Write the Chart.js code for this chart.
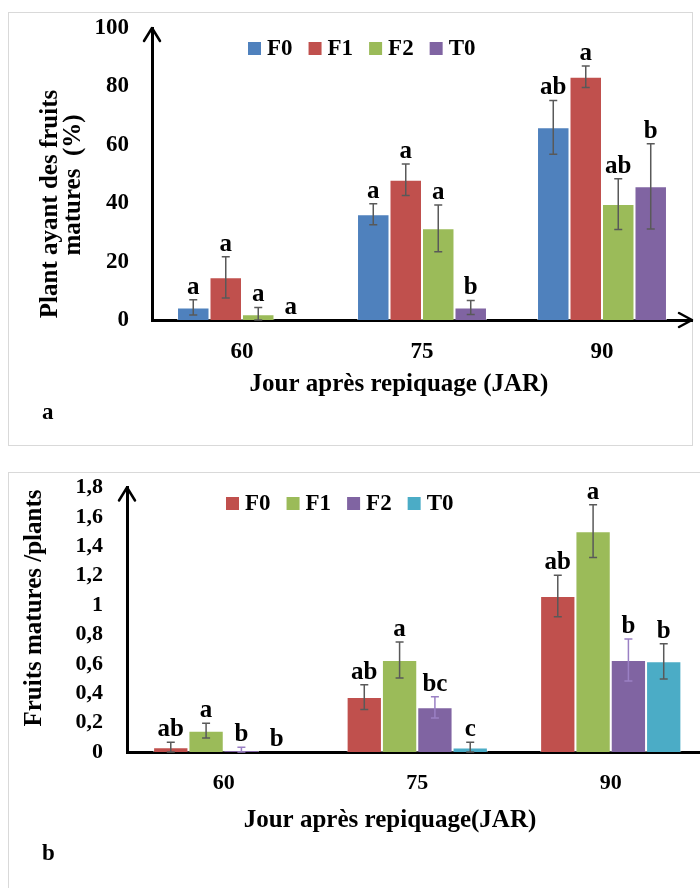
<!DOCTYPE html>
<html><head><meta charset="utf-8">
<script src="https://cdn.jsdelivr.net/npm/chart.js@4/dist/chart.umd.min.js"></script>
<style>
html,body{margin:0;padding:0;background:#fff;width:700px;height:888px;overflow:hidden;position:relative}
.panel{position:absolute;border:1px solid #d9d9d9;box-sizing:border-box}
.wrap{position:absolute;left:0}
</style></head><body>
<div class="panel" style="left:8px;top:12px;width:685px;height:434px"></div>
<div class="panel" style="left:8px;top:472px;width:720px;height:440px"></div>
<div class="wrap" style="top:0;width:700px;height:450px"><canvas id="ca" width="700" height="450"></canvas></div>
<div class="wrap" style="top:460px;width:720px;height:428px"><canvas id="cb" width="720" height="428"></canvas></div>
<script>
// ---------- data ----------
const categories = ['60', '75', '90'];

// Chart a : Plant ayant des fruits matures (%)
const seriesA = ['F0', 'F1', 'F2', 'T0'];
const aF0 = [4.3, 36.2, 66.0];
const aF1 = [14.6, 48.0, 83.3];
const aF2 = [2.0, 31.4, 39.7];
const aT0 = [0, 4.3, 45.8];
const aF0Err = [2.6, 3.6, 9.2];
const aF1Err = [7.1, 5.4, 3.7];
const aF2Err = [2.3, 8.0, 8.7];
const aT0Err = [0, 2.4, 14.6];
const aF0Let = ['a', 'a', 'ab'];
const aF1Let = ['a', 'a', 'a'];
const aF2Let = ['a', 'a', 'ab'];
const aT0Let = ['a', 'b', 'b'];
const aYTicks = ['0', '20', '40', '60', '80', '100'];

// Chart b : Fruits matures /plants
const seriesB = ['F0', 'F1', 'F2', 'T0'];
const bF0 = [0.032, 0.374, 1.061];
const bF1 = [0.145, 0.626, 1.503];
const bF2 = [0.014, 0.304, 0.626];
const bT0 = [0, 0.03, 0.617];
const bF0Err = [0.034, 0.084, 0.141];
const bF1Err = [0.05, 0.122, 0.18];
const bF2Err = [0.018, 0.072, 0.143];
const bT0Err = [0, 0.036, 0.12];
const bF0Let = ['ab', 'ab', 'ab'];
const bF1Let = ['a', 'a', 'a'];
const bF2Let = ['b', 'bc', 'b'];
const bT0Let = ['b', 'c', 'b'];
const bYTicks = ['0', '0,2', '0,4', '0,6', '0,8', '1', '1,2', '1,4', '1,6', '1,8'];

// ---------- styles ----------
const BLUE = '#4F81BD', RED = '#C0504D', GREEN = '#9BBB59', PURPLE = '#8064A2', CYAN = '#4BACC6';
const FAM = '"Liberation Serif", "Times New Roman", serif';
Chart.defaults.font.family = FAM;
Chart.defaults.font.weight = 'bold';
Chart.defaults.color = '#000';

function ds(label, data, err, letters, color, errColor) {
  return { label, data, errors: err, letters, backgroundColor: color,
    borderColor: 'rgba(255,255,255,0.55)', borderWidth: 1, errColor: errColor || '#595959' };
}

const extras = {
  id: 'extras',
  afterDatasetsDraw(chart, args, o) {
    const ctx = chart.ctx, ys = chart.scales.y;
    ctx.save();
    chart.data.datasets.forEach((d, i) => {
      const meta = chart.getDatasetMeta(i);
      meta.data.forEach((bar, j) => {
        const v = d.data[j], e = d.errors[j], x = bar.x;
        const yT = ys.getPixelForValue(v + e), yB = ys.getPixelForValue(Math.max(v - e, ys.min));
        if (e > 0) {
          ctx.strokeStyle = d.errColor; ctx.lineWidth = 1.5;
          ctx.beginPath();
          ctx.moveTo(x, yT); ctx.lineTo(x, yB);
          ctx.moveTo(x - 4, yT); ctx.lineTo(x + 4, yT);
          ctx.moveTo(x - 4, yB); ctx.lineTo(x + 4, yB);
          ctx.stroke();
        }
        ctx.fillStyle = '#000';
        ctx.font = 'bold 25px ' + FAM;
        ctx.textAlign = 'center'; ctx.textBaseline = 'alphabetic';
        ctx.fillText(d.letters[j], x, yT - 6);
      });
    });
    ctx.restore();
  },
  afterDraw(chart, args, o) {
    const ctx = chart.ctx, ca = chart.chartArea;
    ctx.save();
    ctx.strokeStyle = '#000'; ctx.lineWidth = 2.5; ctx.lineCap = 'round'; ctx.lineJoin = 'round';
    // y arrow
    ctx.beginPath();
    ctx.moveTo(ca.left - 8, ca.top + 13); ctx.lineTo(ca.left, ca.top); ctx.lineTo(ca.left + 8, ca.top + 13);
    ctx.stroke();
    if (o.xArrow) {
      ctx.beginPath();
      ctx.moveTo(ca.right - 13, ca.bottom - 7); ctx.lineTo(ca.right, ca.bottom); ctx.lineTo(ca.right - 13, ca.bottom + 7);
      ctx.stroke();
    }
    // legend
    ctx.font = 'bold 23px ' + FAM; ctx.textBaseline = 'middle'; ctx.textAlign = 'left';
    let lx = o.legendX;
    chart.data.datasets.forEach(d => {
      ctx.fillStyle = d.backgroundColor;
      ctx.fillRect(lx, o.legendY - 6.5, 13, 13);
      ctx.fillStyle = '#000';
      ctx.fillText(d.label, lx + 19, o.legendY + 1);
      lx += 19 + ctx.measureText(d.label).width + 16;
    });
    // titles
    ctx.font = 'bold 25px ' + FAM; ctx.textAlign = 'center'; ctx.textBaseline = 'alphabetic';
    o.yTitle.forEach(t => {
      ctx.save(); ctx.translate(t.x, t.y); ctx.rotate(-Math.PI / 2);
      ctx.fillText(t.text, 0, 0); ctx.restore();
    });
    ctx.fillText(o.xTitle.text, o.xTitle.x, o.xTitle.y);
    ctx.textAlign = 'left'; ctx.font = 'bold 23px ' + FAM;
    ctx.fillText(o.tag.text, o.tag.x, o.tag.y);
    ctx.restore();
  }
};

function makeChart(id, labels, datasets, yMax, yStep, yTicks, dims, tickFont, extraOpts) {
  return new Chart(document.getElementById(id), {
    type: 'bar',
    data: { labels, datasets },
    plugins: [extras],
    options: {
      responsive: false, animation: false,
      datasets: { bar: { categoryPercentage: dims.cat, barPercentage: 1 } },
      layout: { padding: { top: dims.top, right: dims.right, left: 0, bottom: 0 } },
      plugins: { legend: { display: false }, tooltip: { enabled: false }, extras: extraOpts },
      scales: {
        x: {
          grid: { display: false, drawTicks: false },
          border: { display: true, color: '#000', width: 3 },
          ticks: { font: { size: tickFont, weight: 'bold' }, padding: dims.xPad, color: '#000' },
          afterFit(s) { s.height = dims.xH; s.paddingLeft = 0; s.paddingRight = 0; }
        },
        y: {
          min: 0, max: yMax,
          grid: { display: false, drawTicks: false },
          border: { display: true, color: '#000', width: 3 },
          ticks: { stepSize: yStep, autoSkip: false, font: { size: tickFont, weight: 'bold' }, padding: dims.yPad, color: '#000',
            callback: (v, i) => yTicks[i] },
          afterFit(s) { s.width = dims.yW; s.paddingTop = 0; s.paddingBottom = 0; }
        }
      }
    }
  });
}

const dsA = [
  ds(seriesA[0], aF0, aF0Err, aF0Let, BLUE),
  ds(seriesA[1], aF1, aF1Err, aF1Let, RED),
  ds(seriesA[2], aF2, aF2Err, aF2Let, GREEN),
  ds(seriesA[3], aT0, aT0Err, aT0Let, PURPLE)
];
makeChart('ca', categories, dsA, 100, 20, aYTicks,
  { cat: 0.722, top: 28, right: 8, xH: 130, yW: 152, xPad: 18, yPad: 23 }, 23,
  { xArrow: true, legendX: 248, legendY: 48.5,
    yTitle: [{ text: 'Plant ayant des fruits', x: 57, y: 204 }, { text: 'matures  (%)', x: 80, y: 185 }],
    xTitle: { text: 'Jour après repiquage (JAR)', x: 399, y: 391 },
    tag: { text: 'a', x: 42, y: 419 } });

const dsB = [
  ds(seriesB[0], bF0, bF0Err, bF0Let, RED),
  ds(seriesB[1], bF1, bF1Err, bF1Let, GREEN),
  ds(seriesB[2], bF2, bF2Err, bF2Let, PURPLE, '#9A80C4'),
  ds(seriesB[3], bT0, bT0Err, bT0Let, CYAN)
];
makeChart('cb', categories, dsB, 1.8, 0.2, bYTicks,
  { cat: 0.73, top: 27.5, right: 12.5, xH: 136, yW: 127, xPad: 18, yPad: 24 }, 22,
  { xArrow: false, legendX: 226, legendY: 43.5,
    yTitle: [{ text: 'Fruits matures /plants', x: 41, y: 148 }],
    xTitle: { text: 'Jour après repiquage(JAR)', x: 390, y: 367 },
    tag: { text: 'b', x: 42, y: 400 } });
</script>
</body></html>
